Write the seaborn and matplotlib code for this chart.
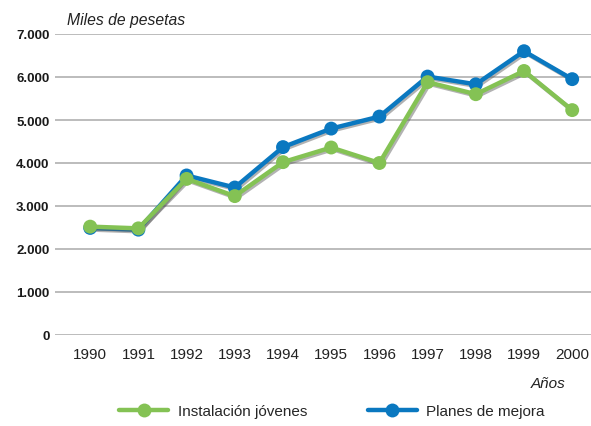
import pandas as pd
import matplotlib
matplotlib.use("Agg")
import matplotlib.pyplot as plt
import matplotlib.patheffects as pe
from matplotlib.lines import Line2D
from matplotlib.ticker import FuncFormatter
import seaborn as sns

years = [1990, 1991, 1992, 1993, 1994, 1995, 1996, 1997, 1998, 1999, 2000]
planes_mejora = [2490, 2450, 3710, 3430, 4370, 4800, 5080, 6010, 5830, 6600, 5950]
instalacion_jovenes = [2520, 2480, 3630, 3230, 4020, 4360, 4000, 5880, 5600, 6140, 5230]
series_names = ["Instalación jóvenes", "Planes de mejora"]
colores = {"Instalación jóvenes": "#84c254", "Planes de mejora": "#0a78c0"}

df = pd.DataFrame({
    "year": years * 2,
    "value": planes_mejora + instalacion_jovenes,
    "serie": ["Planes de mejora"] * len(years) + ["Instalación jóvenes"] * len(years),
})

sns.set_style("white")
plt.rcParams["font.family"] = ["Liberation Sans", "DejaVu Sans"]

fig = plt.figure(figsize=(5.91, 4.27), dpi=100)
ax = fig.add_axes([55 / 591, (427 - 336) / 427, 1 - 55 / 591, (336 - 35) / 427])

shadow = [pe.SimpleLineShadow(offset=(1.2, -1.2), shadow_color="#555555", alpha=0.45), pe.Normal()]
sns.lineplot(data=df, x="year", y="value", hue="serie",
             hue_order=["Planes de mejora", "Instalación jóvenes"],
             palette=colores, marker="o", markersize=10, markeredgewidth=0,
             linewidth=3.2, legend=False, ax=ax, path_effects=shadow)

ax.set_xlim(1989.27, 2000.39)
ax.set_ylim(0, 7000)
ax.set_xticks(years)
ax.set_xticklabels([str(y) for y in years], fontsize=11, color="#222222")
ax.set_yticks(range(0, 7001, 1000))
ax.yaxis.set_major_formatter(FuncFormatter(lambda v, p: f"{int(v):,}".replace(",", ".")))
for lab in ax.get_yticklabels():
    lab.set_fontweight("bold")
ax.tick_params(axis="y", labelsize=9.5, labelcolor="#1a1a1a", direction="in",
               length=8, width=1.8, color="#6e6e6e", pad=4)
ax.tick_params(axis="x", length=0, pad=9)
ax.grid(axis="y", color="#b0b0b0", linewidth=1.2)
ax.grid(axis="x", visible=False)
for s in ax.spines.values():
    s.set_visible(False)
ax.set_xlabel("")
ax.set_ylabel("")

fig.text(67 / 591, 1 - 20 / 427, "Miles de pesetas", fontsize=11.3, style="italic",
         color="#222222", va="center", ha="left")
fig.text(565 / 591, 1 - 384 / 427, "Años", fontsize=11, style="italic",
         color="#222222", va="center", ha="right")

handles = [Line2D([0], [0], color=colores[n], marker="o", markersize=10,
                  markeredgewidth=0, linewidth=3.2) for n in series_names]
fig.legend(handles, series_names, loc="center", bbox_to_anchor=(332 / 591, 1 - 412 / 427),
           ncol=2, frameon=False, fontsize=11, handlelength=3.2, columnspacing=4.0,
           handletextpad=0.6)

fig.savefig("out.png", dpi=100)
